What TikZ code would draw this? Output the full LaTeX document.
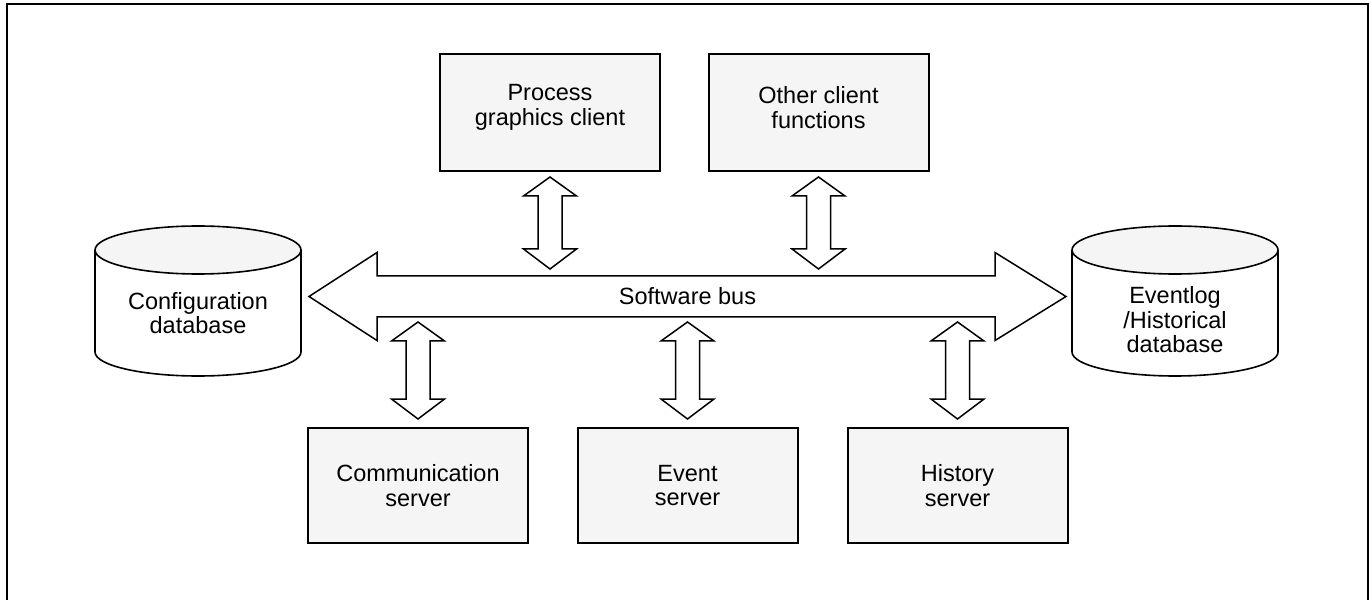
\documentclass[tikz,border=0pt]{standalone}
\usepackage{fontspec}
\setmainfont{Liberation Sans}
\usetikzlibrary{calc}
\definecolor{boxgray}{HTML}{F5F5F5}
% vertical block arrow: #1 = upper tip, #2 = lower tip
\newcommand\vblk[2]{%
  \draw[blk] let \p1=(#1), \p2=(#2) in
    (\x1,\y1) -- (\x1+13.25pt,\y1-9.5pt) -- (\x1+6pt,\y1-9.5pt)
    -- (\x1+6pt,\y2+10pt) -- (\x1+13.25pt,\y2+10pt) -- (\x1,\y2)
    -- (\x1-13.25pt,\y2+10pt) -- (\x1-6pt,\y2+10pt)
    -- (\x1-6pt,\y1-9.5pt) -- (\x1-13.25pt,\y1-9.5pt) -- cycle;}
\begin{document}
\begin{tikzpicture}[x=0.5pt,y=0.5pt,
  font=\fontsize{11.75}{12.25}\selectfont,
  box/.style={draw, line width=1pt, fill=boxgray, minimum width=110pt,
              inner sep=0pt, align=center},
  blk/.style={draw, line width=0.75pt, fill=white, line join=miter},
  cyl/.style={line width=0.8pt}]
\useasboundingbox (0,0) rectangle (1369,600);
% frame
\draw[line width=1pt] (7,0) -- (7,596) -- (1368,596) -- (1368,0);

% top boxes
\node[box, minimum height=58.5pt,
  label={[align=center, yshift=2.5pt]center:Process\\graphics client}] (proc) at (550,487.5) {};
\node[box, minimum height=58.5pt,
  label={[align=center, yshift=2.5pt]center:Other client\\functions}] (other) at (818.5,487.5) {};

% bottom boxes
\node[box, minimum height=57.5pt] (comm) at (418,114.5) {Communication\\server};
\node[box, minimum height=57.5pt] (event) at (687.5,114.5) {Event\\server};
\node[box, minimum height=57.5pt] (hist) at (957.5,114.5) {History\\server};

% software bus
\coordinate (busN) at (687.5,324);
\coordinate (busS) at (687.5,283);
\draw[blk] (309,303.5) -- (377,347.5) -- (377,324) -- (995,324) -- (995,347.5)
  -- (1066,303.5) -- (995,259.5) -- (995,283) -- (377,283) -- (377,259.5) -- cycle;
\node (bus) at (687.5,304) {Software bus};

% cylinders
\fill[white] (95,350) -- (95,248) arc[start angle=180, end angle=360, x radius=51.5pt, y radius=12pt] -- (301,350) -- cycle;
\draw[cyl] (95,350) -- (95,248) arc[start angle=180, end angle=360, x radius=51.5pt, y radius=12pt] -- (301,350);
\draw[cyl, fill=boxgray] (198,350) ellipse [x radius=51.5pt, y radius=12pt];
\node[align=center] (cfg) at (198,287) {Configuration\\database};

\fill[white] (1072,350) -- (1072,248) arc[start angle=180, end angle=360, x radius=51.5pt, y radius=12pt] -- (1278,350) -- cycle;
\draw[cyl] (1072,350) -- (1072,248) arc[start angle=180, end angle=360, x radius=51.5pt, y radius=12pt] -- (1278,350);
\draw[cyl, fill=boxgray] (1175,350) ellipse [x radius=51.5pt, y radius=12pt];
\node[align=center] (evl) at (1175,280) {Eventlog\\/Historical\\database};

% vertical block arrows
\vblk{$(proc.south)+(0,-2.5pt)$}{$(proc.south |- busN)+(0,3.5pt)$}
\vblk{$(other.south)+(0,-2.5pt)$}{$(other.south |- busN)+(0,3.5pt)$}
\vblk{$(comm.north |- busS)+(0,-2.5pt)$}{$(comm.north)+(0,4pt)$}
\vblk{$(event.north |- busS)+(0,-2.5pt)$}{$(event.north)+(0,4pt)$}
\vblk{$(hist.north |- busS)+(0,-2.5pt)$}{$(hist.north)+(0,4pt)$}
\end{tikzpicture}
\end{document}
